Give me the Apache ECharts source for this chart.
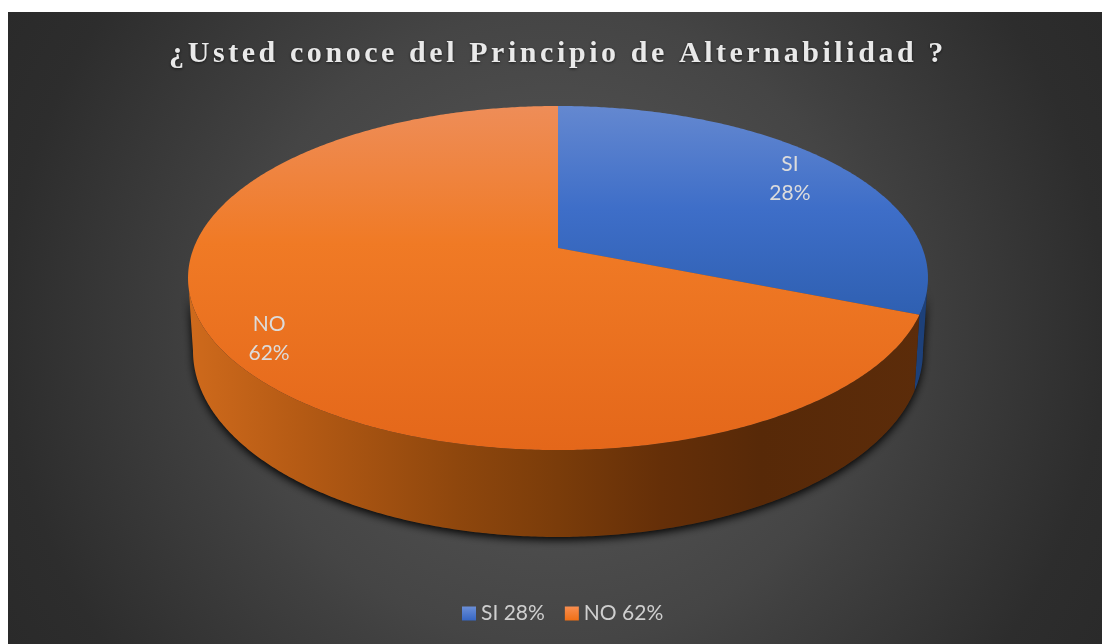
<!DOCTYPE html>
<html>
<head>
<meta charset="utf-8">
<script src="https://cdn.jsdelivr.net/npm/echarts@6/dist/echarts.min.js"></script>
<style>
  html, body { margin: 0; padding: 0; background: #fff; overflow: hidden; }
  #chart { width: 1102px; height: 644px; }
</style>
</head>
<body>
<div id="chart"></div>
<script>
const titleText = "¿Usted conoce del Principio de Alternabilidad ?";
const categories = ["SI", "NO"];
const values = [28, 62];

// the title has wide tracking in the original, zrender has no option for it
const rawFillText = CanvasRenderingContext2D.prototype.fillText;
CanvasRenderingContext2D.prototype.fillText = function (text, x, y, w) {
  if (text !== titleText) return rawFillText.call(this, text, x, y, w);
  this.letterSpacing = "3.57px";
  rawFillText.call(this, text, x, y, w);
  this.letterSpacing = "0px";
};

// perspective circle: v is toward the viewer, k the foreshortening
const topRim = { Y: 248, A: 364.3, B: 166.8, k: 0.1744 };
const baseRim = { Y: 318.6, A: 359.4, B: 180.3, k: 0.1744 };
const cx = 558;
const wallFrom = 100, wallTo = 260; // visible part of the side wall, degrees clockwise from 12 o'clock
const labelRadius = [0.83, 0.875];

const total = values.reduce((a, b) => a + b, 0);
const rad = d => d * Math.PI / 180;

function rimPoint(rim, deg, f) {
  const u = Math.sin(rad(deg)) * f, v = -Math.cos(rad(deg)) * f;
  const w = 1 - rim.k * v;
  return [cx + rim.A * u / w, rim.Y + rim.B * v / w];
}
function arcPoints(rim, from, to) {
  const pts = [];
  const n = Math.max(2, Math.ceil(Math.abs(to - from) * 2));
  for (let i = 0; i <= n; i++) pts.push(rimPoint(rim, from + (to - from) * i / n, 1));
  return pts;
}
function wallPoints(from, to) {
  return arcPoints(topRim, from, to).concat(arcPoints(baseRim, to, from));
}
const vGrad = stops => new echarts.graphic.LinearGradient(0, 106, 0, 450, stops, true);
const hGrad = stops => new echarts.graphic.LinearGradient(188, 0, 928, 0, stops, true);

const topFill = [
  vGrad([{ offset: 0, color: "#6488d0" }, { offset: 0.3, color: "#3e6ec8" }, { offset: 0.6, color: "#2f60b2" }]),
  vGrad([{ offset: 0, color: "#ee8d58" }, { offset: 0.4, color: "#f07a25" }, { offset: 1, color: "#e4671a" }])
];
const wallFill = [
  "#1d4079",
  hGrad([
    { offset: 0, color: "#cf6a1c" }, { offset: 0.155, color: "#b45a14" }, { offset: 0.36, color: "#8f470d" },
    { offset: 0.5, color: "#7a3c0a" }, { offset: 0.64, color: "#652f08" }, { offset: 0.775, color: "#572908" },
    { offset: 1, color: "#5c2c0a" }
  ])
];
const legendFill = [
  new echarts.graphic.LinearGradient(0, 0, 0, 1, [{ offset: 0, color: "#6b8fd8" }, { offset: 1, color: "#3666c3" }]),
  new echarts.graphic.LinearGradient(0, 0, 0, 1, [{ offset: 0, color: "#f98e50" }, { offset: 1, color: "#f06f15" }])
];

let start = 0;
const sliceSeries = categories.map((name, i) => {
  const from = start;
  const to = start + values[i] / total * 360;
  start = to;
  return {
    type: "custom",
    name: name + " " + values[i] + "%",
    coordinateSystem: "none",
    silent: true,
    z: 3 + i,
    itemStyle: { color: legendFill[i] },
    data: [values[i]],
    renderItem: () => {
      const children = [];
      const a = Math.max(from, wallFrom), b = Math.min(to, wallTo);
      if (b > a) {
        children.push({
          type: "polygon", z2: 1,
          shape: { points: wallPoints(a, b) },
          style: { fill: wallFill[i] }
        });
      }
      children.push({
        type: "polygon", z2: 2,
        shape: { points: [[cx, topRim.Y]].concat(arcPoints(topRim, from, to)) },
        style: { fill: topFill[i] }
      });
      const mid = rimPoint(topRim, (from + to) / 2, labelRadius[i]);
      children.push({
        type: "text", z2: 3,
        style: {
          text: name + "\n" + values[i] + "%",
          x: mid[0], y: mid[1] + 2,
          align: "center", verticalAlign: "middle",
          fontFamily: "Lato", fontSize: 21, lineHeight: 29,
          fill: "#dcdcdc"
        }
      });
      return { type: "group", children };
    }
  };
});

const shadowSeries = {
  type: "custom",
  name: "sombra",
  coordinateSystem: "none",
  silent: true,
  z: 1,
  data: [total],
  renderItem: () => ({
    type: "polygon",
    shape: { points: wallPoints(wallFrom, wallTo) },
    style: { fill: "#222", shadowColor: "rgba(0,0,0,0.95)", shadowBlur: 8, shadowOffsetY: 3 }
  })
};

const chart = echarts.init(document.getElementById("chart"));
chart.setOption({
  animation: false,
  graphic: [{
    type: "rect", z: -10, silent: true,
    shape: { x: 8, y: 12, width: 1094, height: 632 },
    style: {
      fill: new echarts.graphic.RadialGradient(0.5, 0.5, 1, [
        { offset: 0, color: "#5a5a5a" }, { offset: 0.5, color: "#454545" }, { offset: 0.57, color: "#404040" },
        { offset: 0.87, color: "#2d2d2d" }, { offset: 1, color: "#2a2a2a" }
      ])
    }
  }],
  title: {
    text: titleText,
    left: 553, top: 34, textAlign: "center",
    textStyle: {
      fontFamily: "Liberation Serif", fontWeight: "bold", fontSize: 30, color: "#e9e9e9",
      textShadowColor: "rgba(0,0,0,0.6)", textShadowBlur: 3, textShadowOffsetY: 1.5
    }
  },
  legend: {
    data: categories.map((c, i) => c + " " + values[i] + "%"),
    left: 457, top: 598,
    icon: "rect", itemWidth: 14, itemHeight: 14, itemGap: 20,
    selectedMode: false,
    textStyle: { fontFamily: "Lato", fontSize: 21, color: "#cfcfcf" }
  },
  series: [shadowSeries].concat(sliceSeries)
});
</script>
</body>
</html>
